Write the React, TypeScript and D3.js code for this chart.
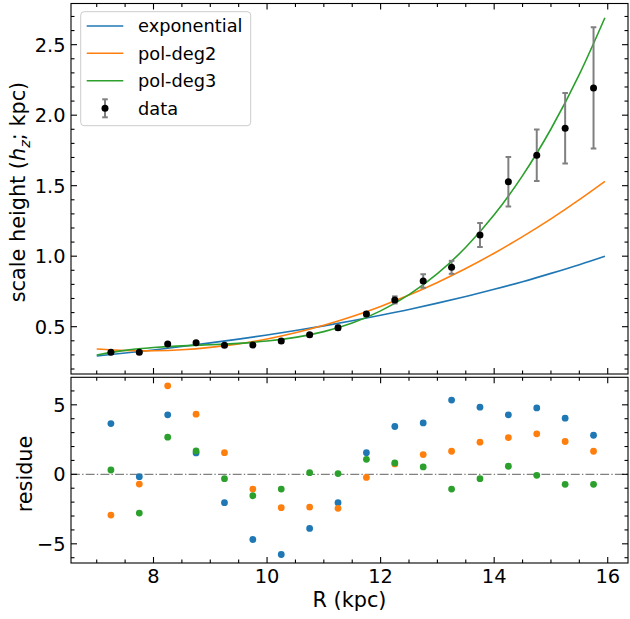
import React from "react";
import * as d3 from "d3";

// ---------- data ----------
const radius = [7.25, 7.75, 8.25, 8.75, 9.25, 9.75, 10.25, 10.75, 11.25, 11.75, 12.25, 12.75, 13.25, 13.75, 14.25, 14.75, 15.25, 15.75];
const scaleHeight = [0.318, 0.318, 0.377, 0.387, 0.368, 0.37, 0.399, 0.443, 0.493, 0.59, 0.69, 0.824, 0.921, 1.15, 1.528, 1.716, 1.907, 2.193];
const scaleHeightErr = [0.005, 0.008, 0.01, 0.01, 0.008, 0.009, 0.012, 0.012, 0.015, 0.015, 0.025, 0.048, 0.046, 0.085, 0.176, 0.183, 0.25, 0.43];

const curveR = [7.0, 7.5, 8.0, 8.5, 9.0, 9.5, 10.0, 10.5, 11.0, 11.5, 12.0, 12.5, 13.0, 13.5, 14.0, 14.5, 15.0, 15.5, 15.95];
const expCurve = [0.292, 0.313, 0.335, 0.359, 0.385, 0.412, 0.441, 0.473, 0.506, 0.542, 0.581, 0.622, 0.667, 0.714, 0.765, 0.819, 0.878, 0.94, 1.0];
const pol2Curve = [0.342, 0.331, 0.329, 0.336, 0.353, 0.378, 0.413, 0.457, 0.51, 0.572, 0.644, 0.724, 0.814, 0.913, 1.021, 1.139, 1.265, 1.401, 1.531];
const pol3Curve = [0.299, 0.332, 0.352, 0.364, 0.372, 0.382, 0.398, 0.424, 0.465, 0.526, 0.612, 0.727, 0.876, 1.063, 1.293, 1.571, 1.902, 2.289, 2.691];

const resExp = [3.65, -0.17, 4.28, 1.54, -2.04, -4.69, -5.77, -3.89, -2.04, 1.56, 3.44, 3.7, 5.34, 4.83, 4.28, 4.78, 4.04, 2.81];
const resPol2 = [-2.93, -0.7, 6.37, 4.33, 1.56, -1.06, -2.4, -2.36, -2.45, -0.22, 0.75, 1.42, 1.66, 2.31, 2.64, 2.91, 2.36, 1.66];
const resPol3 = [0.31, -2.79, 2.67, 1.68, -0.31, -1.54, -1.06, 0.12, 0.05, 1.08, 0.82, 0.53, -1.06, -0.31, 0.58, -0.07, -0.72, -0.72];

const seriesNames = ["exponential", "pol-deg2", "pol-deg3"];
const seriesColors = ["#1f77b4", "#ff7f0e", "#2ca02c"];

const xMajorTicks = [8, 10, 12, 14, 16];
const topYMajorTicks = [0.5, 1.0, 1.5, 2.0, 2.5];
const botYMajorTicks = [-5, 0, 5];

// ---------- layout ----------
const W = 630, H = 619;
const L = 71, R = 628;
const topT = 3.5, topB = 374;
const botT = 377.3, botB = 563;
const FONT = "DejaVu Sans, sans-serif";
const TICK_FS = 19.4;
const LABEL_FS = 20.8;
const LEG_FS = 17.8;

const fmtMinus = (v: number, digits: number) => {
  const s = digits > 0 ? v.toFixed(digits) : String(v);
  return s.replace("-", "\u2212");
};

function range(a: number, b: number, step: number) {
  const out: number[] = [];
  for (let i = 0; a + i * step <= b + 1e-9; i++) out.push(+(a + i * step).toFixed(6));
  return out;
}

export default function App() {
  const x = d3.scaleLinear().domain([6.547, 16.357]).range([L, R]);
  const yTop = d3.scaleLinear().domain([0.1645, 2.792]).range([topB, topT]);
  const yBot = d3.scaleLinear().domain([-6.38, 6.98]).range([botB, botT]);

  const xMinor = range(6.5, 16.5, 0.5).filter((v) => v >= x.domain()[0] && v <= x.domain()[1] && !xMajorTicks.includes(v));
  const topYMinor = range(0.2, 2.8, 0.1).filter((v) => v >= yTop.domain()[0] && v <= yTop.domain()[1] && !topYMajorTicks.some((m) => Math.abs(m - v) < 1e-6));
  const botYMinor = range(-6, 6, 1).filter((v) => !botYMajorTicks.includes(v));

  const curves = [expCurve, pol2Curve, pol3Curve];
  const residues = [resExp, resPol2, resPol3];

  const line = (vals: number[]) =>
    d3
      .line<number>()
      .x((_, i) => x(curveR[i]))
      .y((v) => yTop(v))
      .curve(d3.curveNatural)(vals) || "";

  const MAJ = 6, MIN = 3.5;

  const frameTicks = (
    yScale: d3.ScaleLinear<number, number>,
    yMaj: number[],
    yMin: number[],
    t: number,
    b: number,
    key: string
  ) => {
    const els: React.ReactNode[] = [];
    const xs = [...xMajorTicks.map((v) => [v, MAJ]), ...xMinor.map((v) => [v, MIN])];
    xs.forEach(([v, len], i) => {
      const px = x(v);
      els.push(<line key={`${key}xb${i}`} x1={px} x2={px} y1={b} y2={b - len} stroke="#000" strokeWidth={1.1} />);
      els.push(<line key={`${key}xt${i}`} x1={px} x2={px} y1={t} y2={t + len} stroke="#000" strokeWidth={1.1} />);
    });
    const ys = [...yMaj.map((v) => [v, MAJ]), ...yMin.map((v) => [v, MIN])];
    ys.forEach(([v, len], i) => {
      const py = yScale(v);
      els.push(<line key={`${key}yl${i}`} x1={L} x2={L + len} y1={py} y2={py} stroke="#000" strokeWidth={1.1} />);
      els.push(<line key={`${key}yr${i}`} x1={R} x2={R - len} y1={py} y2={py} stroke="#000" strokeWidth={1.1} />);
    });
    return els;
  };

  const legX = 80.7, legY = 11.7, legW = 170, legH = 114;
  const legRows = [26, 53.3, 80.7, 108.3];
  const legLineX1 = 86.7, legLineX2 = 123.3, legTextX = 138;

  return (
    <svg
      width={W}
      height={H}
      style={{ position: "fixed", left: 0, top: 0, background: "#fff" }}
      fontFamily={FONT}
    >
      <rect x={0} y={0} width={W} height={H} fill="#fff" />

      <defs>
        <clipPath id="clipTop">
          <rect x={L} y={topT} width={R - L} height={topB - topT} />
        </clipPath>
        <clipPath id="clipBot">
          <rect x={L} y={botT} width={R - L} height={botB - botT} />
        </clipPath>
      </defs>

      {/* ---------- top panel ---------- */}
      <g clipPath="url(#clipTop)">
        {curves.map((c, k) => (
          <path key={`c${k}`} d={line(c)} fill="none" stroke={seriesColors[k]} strokeWidth={1.6} />
        ))}
        {radius.map((r, i) => {
          const px = x(r);
          const y1 = yTop(scaleHeight[i] - scaleHeightErr[i]);
          const y2 = yTop(scaleHeight[i] + scaleHeightErr[i]);
          return (
            <g key={`e${i}`} stroke="#808080" strokeWidth={2}>
              <line x1={px} x2={px} y1={y1} y2={y2} />
              <line x1={px - 2.8} x2={px + 2.8} y1={y1} y2={y1} />
              <line x1={px - 2.8} x2={px + 2.8} y1={y2} y2={y2} />
            </g>
          );
        })}
        {radius.map((r, i) => (
          <circle key={`p${i}`} cx={x(r)} cy={yTop(scaleHeight[i])} r={3.5} fill="#000" />
        ))}
      </g>

      {frameTicks(yTop, topYMajorTicks, topYMinor, topT, topB, "t")}
      <rect x={L} y={topT} width={R - L} height={topB - topT} fill="none" stroke="#000" strokeWidth={1.1} />

      {topYMajorTicks.map((v) => (
        <text key={`ty${v}`} x={L - 5.5} y={yTop(v)} dy="0.36em" textAnchor="end" fontSize={TICK_FS}>
          {v.toFixed(1)}
        </text>
      ))}

      <text transform={`translate(25,192) rotate(-90)`} textAnchor="middle" fontSize={LABEL_FS}>
        scale height (<tspan fontStyle="italic">h</tspan>
        <tspan fontSize={LABEL_FS * 0.7} fontStyle="italic" dy={4.5}>
          z
        </tspan>
        <tspan dy={-4.5}>; kpc)</tspan>
      </text>

      {/* legend */}
      <rect
        x={legX}
        y={legY}
        width={legW}
        height={legH}
        rx={3.5}
        fill="#fff"
        fillOpacity={0.8}
        stroke="#cccccc"
        strokeWidth={1}
      />
      {seriesNames.map((n, k) => (
        <g key={`lg${k}`}>
          <line x1={legLineX1} x2={legLineX2} y1={legRows[k]} y2={legRows[k]} stroke={seriesColors[k]} strokeWidth={1.6} />
          <text x={legTextX} y={legRows[k]} dy="0.36em" fontSize={LEG_FS}>
            {n}
          </text>
        </g>
      ))}
      <g>
        <g stroke="#808080" strokeWidth={2}>
          <line x1={(legLineX1 + legLineX2) / 2} x2={(legLineX1 + legLineX2) / 2} y1={legRows[3] - 9} y2={legRows[3] + 9} />
          <line x1={(legLineX1 + legLineX2) / 2 - 2.8} x2={(legLineX1 + legLineX2) / 2 + 2.8} y1={legRows[3] - 9} y2={legRows[3] - 9} />
          <line x1={(legLineX1 + legLineX2) / 2 - 2.8} x2={(legLineX1 + legLineX2) / 2 + 2.8} y1={legRows[3] + 9} y2={legRows[3] + 9} />
        </g>
        <circle cx={(legLineX1 + legLineX2) / 2} cy={legRows[3]} r={3.5} fill="#000" />
        <text x={legTextX} y={legRows[3]} dy="0.36em" fontSize={LEG_FS}>
          data
        </text>
      </g>

      {/* ---------- bottom panel ---------- */}
      <g clipPath="url(#clipBot)">
        <line
          x1={L}
          x2={R}
          y1={yBot(0)}
          y2={yBot(0)}
          stroke="#808080"
          strokeWidth={1.3}
          strokeDasharray="8.9,2.2,1.4,2.2"
        />
        {residues.map((res, k) =>
          res.map((v, i) => (
            <circle key={`r${k}-${i}`} cx={x(radius[i])} cy={yBot(v)} r={3.4} fill={seriesColors[k]} />
          ))
        )}
      </g>

      {frameTicks(yBot, botYMajorTicks, botYMinor, botT, botB, "b")}
      <rect x={L} y={botT} width={R - L} height={botB - botT} fill="none" stroke="#000" strokeWidth={1.1} />

      {botYMajorTicks.map((v) => (
        <text key={`by${v}`} x={L - 5.5} y={yBot(v)} dy="0.36em" textAnchor="end" fontSize={TICK_FS}>
          {fmtMinus(v, 0)}
        </text>
      ))}
      {xMajorTicks.map((v) => (
        <text key={`bx${v}`} x={x(v)} y={583} textAnchor="middle" fontSize={TICK_FS}>
          {v}
        </text>
      ))}

      <text transform={`translate(31.5,474) rotate(-90)`} textAnchor="middle" fontSize={LABEL_FS}>
        residue
      </text>
      <text x={(L + R) / 2} y={607} textAnchor="middle" fontSize={LABEL_FS}>
        R (kpc)
      </text>
    </svg>
  );
}
